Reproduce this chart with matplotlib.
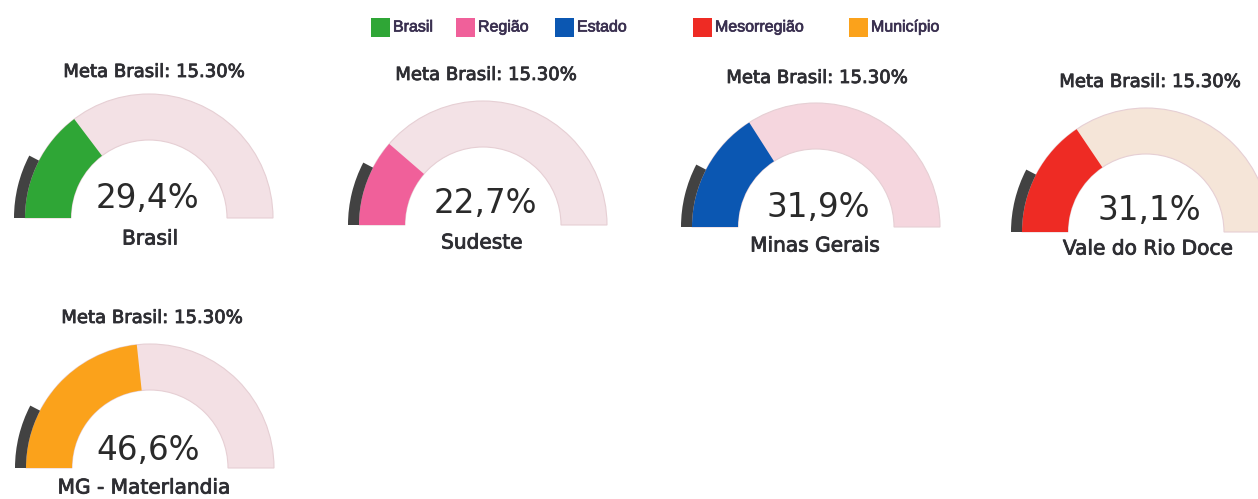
import matplotlib
matplotlib.use("Agg")
import matplotlib.pyplot as plt
from matplotlib.patches import Wedge, Rectangle
import matplotlib.patheffects as pe

# ---- data ----
meta = 15.30
labels = ["Brasil", "Sudeste", "Minas Gerais", "Vale do Rio Doce", "MG - Materlandia"]
values = [29.4, 22.7, 31.9, 31.1, 46.6]
value_text = ["29,4%", "22,7%", "31,9%", "31,1%", "46,6%"]
series_colors = ["#2fa636", "#f0609a", "#0b57b2", "#ee2b24", "#fba21b"]
legend_names = ["Brasil", "Região", "Estado", "Mesorregião", "Município"]

# ---- layout (pixels, y from top) ----
W, H = 1258, 499
centers = [(149, 218), (483, 225), (816, 227), (1146, 232), (150, 468)]
title_pos = [(154, 72), (486, 75), (817, 78), (1150, 82), (152, 318)]
value_pos = [(147, 198), (485, 203), (818, 207), (1149, 210), (148, 450)]
label_pos = [(150, 239), (482, 243), (815, 246), (1148, 249), (144, 488)]
band_bg = ["#f3e1e5", "#f3e2e6", "#f5d6de", "#f5e5d8", "#f3e0e4"]
R_out, R_in = 124, 78
dark_w = 11

fig = plt.figure(figsize=(W / 100, H / 100), dpi=100)
ax = fig.add_axes([0, 0, 1, 1])
ax.set_xlim(0, W)
ax.set_ylim(0, H)
ax.set_aspect("equal")
ax.axis("off")

def Y(y):
    return H - y

txt_col = "#2e2e33"
semi = [pe.withStroke(linewidth=0.6, foreground=txt_col)]

for i in range(len(values)):
    cx, cy = centers[i][0], Y(centers[i][1])
    # background band
    ax.add_patch(Wedge((cx, cy), R_out, 0, 180, width=R_out - R_in,
                       facecolor=band_bg[i], edgecolor="#e6cfd4", linewidth=0.8))
    # value band
    ang = 180 - 180 * values[i] / 100.0
    ax.add_patch(Wedge((cx, cy), R_out, ang, 180, width=R_out - R_in,
                       facecolor=series_colors[i], edgecolor="none"))
    # meta marker (dark outer arc)
    mang = 180 - 180 * meta / 100.0
    ax.add_patch(Wedge((cx, cy), R_out + dark_w, mang, 180, width=dark_w,
                       facecolor="#424242", edgecolor="none"))
    # texts
    ax.text(title_pos[i][0], Y(title_pos[i][1]), f"Meta Brasil: {meta:.2f}%",
            ha="center", va="center", fontsize=13, color=txt_col,
            family="DejaVu Sans", path_effects=semi)
    ax.text(value_pos[i][0], Y(value_pos[i][1]), value_text[i],
            ha="center", va="center", fontsize=23.5, color="#2a2a2a",
            family="DejaVu Sans")
    ax.text(label_pos[i][0], Y(label_pos[i][1]), labels[i],
            ha="center", va="center", fontsize=14.5, color=txt_col,
            family="DejaVu Sans", path_effects=semi)

# legend
leg_x = [371, 456, 555, 693, 849]
leg_y = 27
sq = 19
leg_fx = [pe.withStroke(linewidth=0.5, foreground="#3a3050")]
for i, name in enumerate(legend_names):
    ax.add_patch(Rectangle((leg_x[i], Y(leg_y) - sq / 2), sq, sq,
                           facecolor=series_colors[i], edgecolor="none"))
    ax.text(leg_x[i] + sq + 3, Y(leg_y), name, ha="left", va="center",
            fontsize=11.5, color="#3a3050", family="Liberation Sans",
            path_effects=leg_fx)

fig.savefig("out.png", dpi=100)
